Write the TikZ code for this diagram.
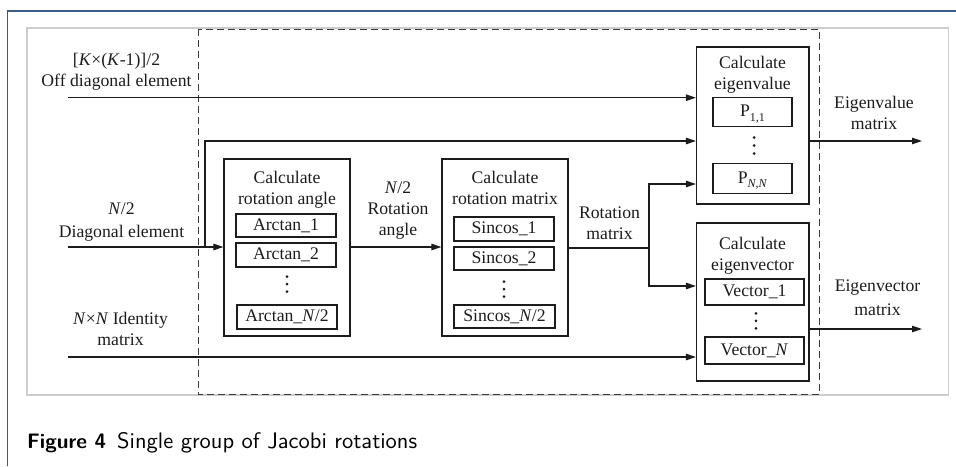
\documentclass[tikz,border=0pt]{standalone}
\usepackage{fontspec}
\usepackage{graphicx}
\setmainfont{Liberation Serif}
\newfontfamily\capfont{lmsans10-regular.otf}[BoldFont=lmsans10-bold.otf]
\usetikzlibrary{arrows.meta}
\definecolor{pagerule}{HTML}{3D5A89}
\definecolor{framegray}{HTML}{CDCDCD}
\definecolor{ink}{HTML}{1C1C1C}
\definecolor{dashink}{HTML}{3A3A3A}
\begin{document}
\begin{tikzpicture}[x=1pt,y=-1pt,
  lbl/.style={inner sep=0pt, align=center, anchor=base, text=ink,
              font=\fontsize{17.7}{21}\selectfont},
  box/.style={draw=ink, line width=1.2pt, inner sep=0pt},
  cell/.style={draw=ink, line width=1.1pt, inner sep=0pt, text=ink,
               text height=12.5pt, text depth=3.5pt,
               font=\fontsize{17.7}{21}\selectfont},
  wire/.style={draw=ink, line width=1.1pt},
  arr/.style={wire, -{Triangle[length=10pt,width=6.5pt]}},
  dot/.style={fill=ink},
  captext/.style={inner sep=0pt, anchor=base west, text=black,
              font=\capfont\fontsize{20}{24}\selectfont}]
\useasboundingbox (0,0) rectangle (956,466);

% page rules and figure frame
\draw[pagerule, line width=1.6pt] (7.5,466) -- (7.5,11) -- (956,11);
\draw[framegray, line width=1.2pt] (27,28) rectangle (948.5,395);

% dashed enclosure of the rotation stage
\draw[dashink, line width=1pt, dash pattern=on 7pt off 4pt] (198,29) rectangle (819.5,394);

% processing blocks
\node[box, minimum width=126pt, minimum height=177pt] (ang)  at (287,247.5) {};
\node[box, minimum width=126pt, minimum height=177pt] (mat)  at (505,247.5) {};
\node[box, minimum width=112.5pt, minimum height=157pt] (eval) at (752.75,125.5) {};
\node[box, minimum width=112.5pt, minimum height=158pt] (evec) at (752.75,302) {};

% block titles (anchored at the baseline of the last line)
\node[lbl] (angT)  at (287,204)   {Calculate\\rotation angle};
\node[lbl] (matT)  at (505,204)   {Calculate\\rotation matrix};
\node[lbl] (evalT) at (752.5,89)  {Calculate\\eigenvalue};
\node[lbl] (evecT) at (752.5,270) {Calculate\\eigenvector};

% inner cells
\node[cell, minimum width=100pt, minimum height=23pt] (a1) at (286,225.5) {Arctan\_1};
\node[cell, minimum width=100pt, minimum height=24pt] (a2) at (286,255)   {Arctan\_2};
\node[cell, minimum width=100pt, minimum height=24pt] (an) at (287,317)   {Arctan\_\textit{N}/2};
\node[cell, minimum width=100pt, minimum height=24pt] (s1) at (504,229)   {Sincos\_1};
\node[cell, minimum width=100pt, minimum height=23pt] (s2) at (504,258.5) {Sincos\_2};
\node[cell, minimum width=101pt, minimum height=23pt] (sn) at (504.5,316.5) {Sincos\_\textit{N}/2};
\node[cell, minimum width=79pt, minimum height=29pt] (p11) at (752.5,112)
  {P\raisebox{-0.28em}{\fontsize{12}{12}\selectfont 1,1}};
\node[cell, minimum width=79pt, minimum height=30pt] (pnn) at (752.5,178.5)
  {P\raisebox{-0.28em}{\fontsize{12}{12}\selectfont\textit{N},\textit{N}}};
\node[cell, minimum width=99pt, minimum height=26pt] (v1) at (754.5,292)   {Vector\_1};
\node[cell, minimum width=99pt, minimum height=27pt] (vn) at (754.5,350.5) {Vector\_\textit{N}};

% vertical ellipses
\foreach \y in {276.7,284.2,291.7} \fill[dot] (287,\y) circle[radius=1.5pt];
\foreach \y in {281.7,289.2,296.7} \fill[dot] (504,\y) circle[radius=1.5pt];
\foreach \y in {137.5,145.5,153.5} \fill[dot] (754,\y) circle[radius=1.5pt];
\foreach \y in {313.3,320.8,328.3} \fill[dot] (756,\y) circle[radius=1.5pt];

% signal labels (anchored at the baseline of the last line)
\node[lbl] (offL)  at (116.5,86) {[\textit{K}×(\textit{K}-1)]/2\\Off diagonal element};
\node[lbl] (diaL)  at (121.5,237) {\textit{N}/2\\[1.5pt]Diagonal element};
\node[lbl] (idL)   at (120.5,345) {\textit{N}×\textit{N} Identity\\matrix};
\node[lbl] (angL)  at (398,235)  {\textit{N}/2\\Rotation\\angle};
\node[lbl] (matL)  at (609.5,239) {Rotation\\matrix};
\node[lbl] (evalL) at (874,129)  {Eigenvalue\\matrix};
\node[lbl] (evecL) at (877.5,315) {Eigenvector\\[3pt]matrix};

% connectors
\coordinate (in1) at (68,97.7);
\coordinate (in2) at (68,247);
\coordinate (in3) at (68,357);
\coordinate (split) at (205,247);
\coordinate (upper) at (205,141);
\coordinate (fork) at (649,248);
\coordinate (forkup) at (649,184);
\coordinate (forkdn) at (649,286);
\coordinate (out1) at (922,141);
\coordinate (out2) at (922,329);

\draw[arr] (in1) -- (in1 -| eval.west);
\draw[arr] (in2) -- (in2 -| ang.west);
\draw[arr] (split) -- (upper) -- (upper -| eval.west);
\draw[arr] (in2 -| ang.east) -- (in2 -| mat.west);
\draw[wire] (fork -| mat.east) -- (fork);
\draw[arr] (fork) |- (forkup -| eval.west);
\draw[arr] (fork) |- (forkdn -| evec.west);
\draw[arr] (in3) -- (in3 -| evec.west);
\draw[arr] (out1 -| eval.east) -- (out1);
\draw[arr] (out2 -| evec.east) -- (out2);

% caption, each part set to its printed width
\node[captext] (figno) at (27,448) {\resizebox{79pt}{!}{\bfseries Figure 4}};
\node[captext] (figtx) at (117,448) {\resizebox{300pt}{!}{Single group of Jacobi rotations}};
\end{tikzpicture}
\end{document}
